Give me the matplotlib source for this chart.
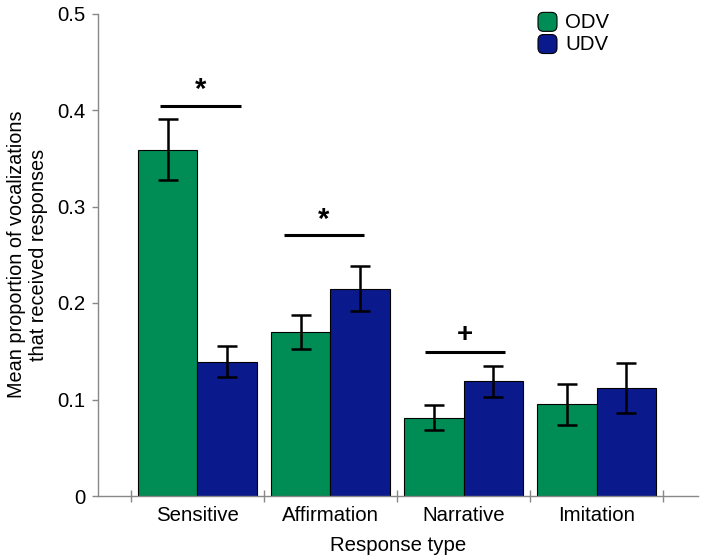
import matplotlib
matplotlib.use("Agg")
import matplotlib.pyplot as plt
import numpy as np
from matplotlib.patches import FancyBboxPatch
from matplotlib.legend_handler import HandlerPatch
import matplotlib.patches as mpatches

plt.rcParams['font.family'] = ['Liberation Sans', 'DejaVu Sans']

categories = ["Sensitive", "Affirmation", "Narrative", "Imitation"]
odv = [0.359, 0.170, 0.081, 0.095]
odv_err = [0.032, 0.018, 0.013, 0.021]
udv = [0.139, 0.215, 0.119, 0.112]
udv_err = [0.016, 0.023, 0.016, 0.026]
series_names = ["ODV", "UDV"]
green = "#008C55"
blue = "#0A1A8C"

# significance markers: (category index, left offset, right offset, height, symbol)
sig_marks = [(0, -0.28, 0.33, 0.404, "*"),
             (1, -0.35, 0.25, 0.270, "*"),
             (2, -0.29, 0.31, 0.149, "+")]

FS = 14.7

fig = plt.figure(figsize=(7.04, 5.6), dpi=100)
ax = fig.add_axes([98/704, 64/560, 600/704, (496-13.5)/560])

x = np.arange(len(categories))
w = 0.447
err_kw = dict(elinewidth=1.8, capsize=7, capthick=1.8, ecolor='black')
ax.bar(x - w/2, odv, w, yerr=odv_err, color=green, edgecolor='black', linewidth=0.8,
       label=series_names[0], error_kw=err_kw)
ax.bar(x + w/2, udv, w, yerr=udv_err, color=blue, edgecolor='black', linewidth=0.8,
       label=series_names[1], error_kw=err_kw)

for ci, lo, hi, h, sym in sig_marks:
    ax.plot([ci + lo, ci + hi], [h, h], color='black', lw=2.2, solid_capstyle='butt')
    if sym == "*":
        ax.text(ci + (lo + hi) / 2, h + 0.002, sym, ha='center', va='bottom',
                fontsize=21, fontweight='bold')
    else:
        ax.text(ci + (lo + hi) / 2, h + 0.004, sym, ha='center', va='bottom',
                fontsize=20, fontweight='bold')

ax.set_xlim(-0.748, 3.763)
ax.set_ylim(0, 0.5)
ax.set_yticks([0, 0.1, 0.2, 0.3, 0.4, 0.5])
ax.set_yticklabels(["0", "0.1", "0.2", "0.3", "0.4", "0.5"])
ax.set_xticks(x)
ax.set_xticklabels(categories)
ax.set_xticks(np.arange(-0.5, len(categories), 1.0), minor=True)
ax.tick_params(axis='x', which='major', length=0, pad=7, labelsize=FS)
ax.tick_params(axis='x', which='minor', direction='inout', length=8, color='#888888', width=1)
ax.tick_params(axis='y', direction='out', length=4, color='#888888', width=1, pad=5, labelsize=FS)

for s in ['top', 'right']:
    ax.spines[s].set_visible(False)
for s in ['left', 'bottom']:
    ax.spines[s].set_color('#888888')
    ax.spines[s].set_linewidth(1)

ax.set_xlabel("Response type", fontsize=FS, labelpad=8)
ax.set_ylabel("Mean proportion of vocalizations\nthat received responses", fontsize=14.3,
              labelpad=7)


class RoundHandler(HandlerPatch):
    def create_artists(self, legend, orig_handle, xdescent, ydescent, width, height, fontsize, trans):
        s = width
        p = FancyBboxPatch((-xdescent, -ydescent + (height - s) / 2 - 1), s, s,
                           boxstyle="round,pad=0,rounding_size=4",
                           facecolor=orig_handle.get_facecolor(), edgecolor='black', lw=0.8,
                           transform=trans)
        return [p]


handles = [mpatches.Patch(facecolor=green), mpatches.Patch(facecolor=blue)]
leg = fig.legend(handles, series_names, loc='upper left', bbox_to_anchor=(538/704, 1 - 12/560),
                 frameon=False, fontsize=FS, handlelength=0.93, handleheight=0.9,
                 labelspacing=0.13, handletextpad=0.4, borderpad=0, borderaxespad=0,
                 handler_map={mpatches.Patch: RoundHandler()})

fig.savefig("out.png", dpi=100)
